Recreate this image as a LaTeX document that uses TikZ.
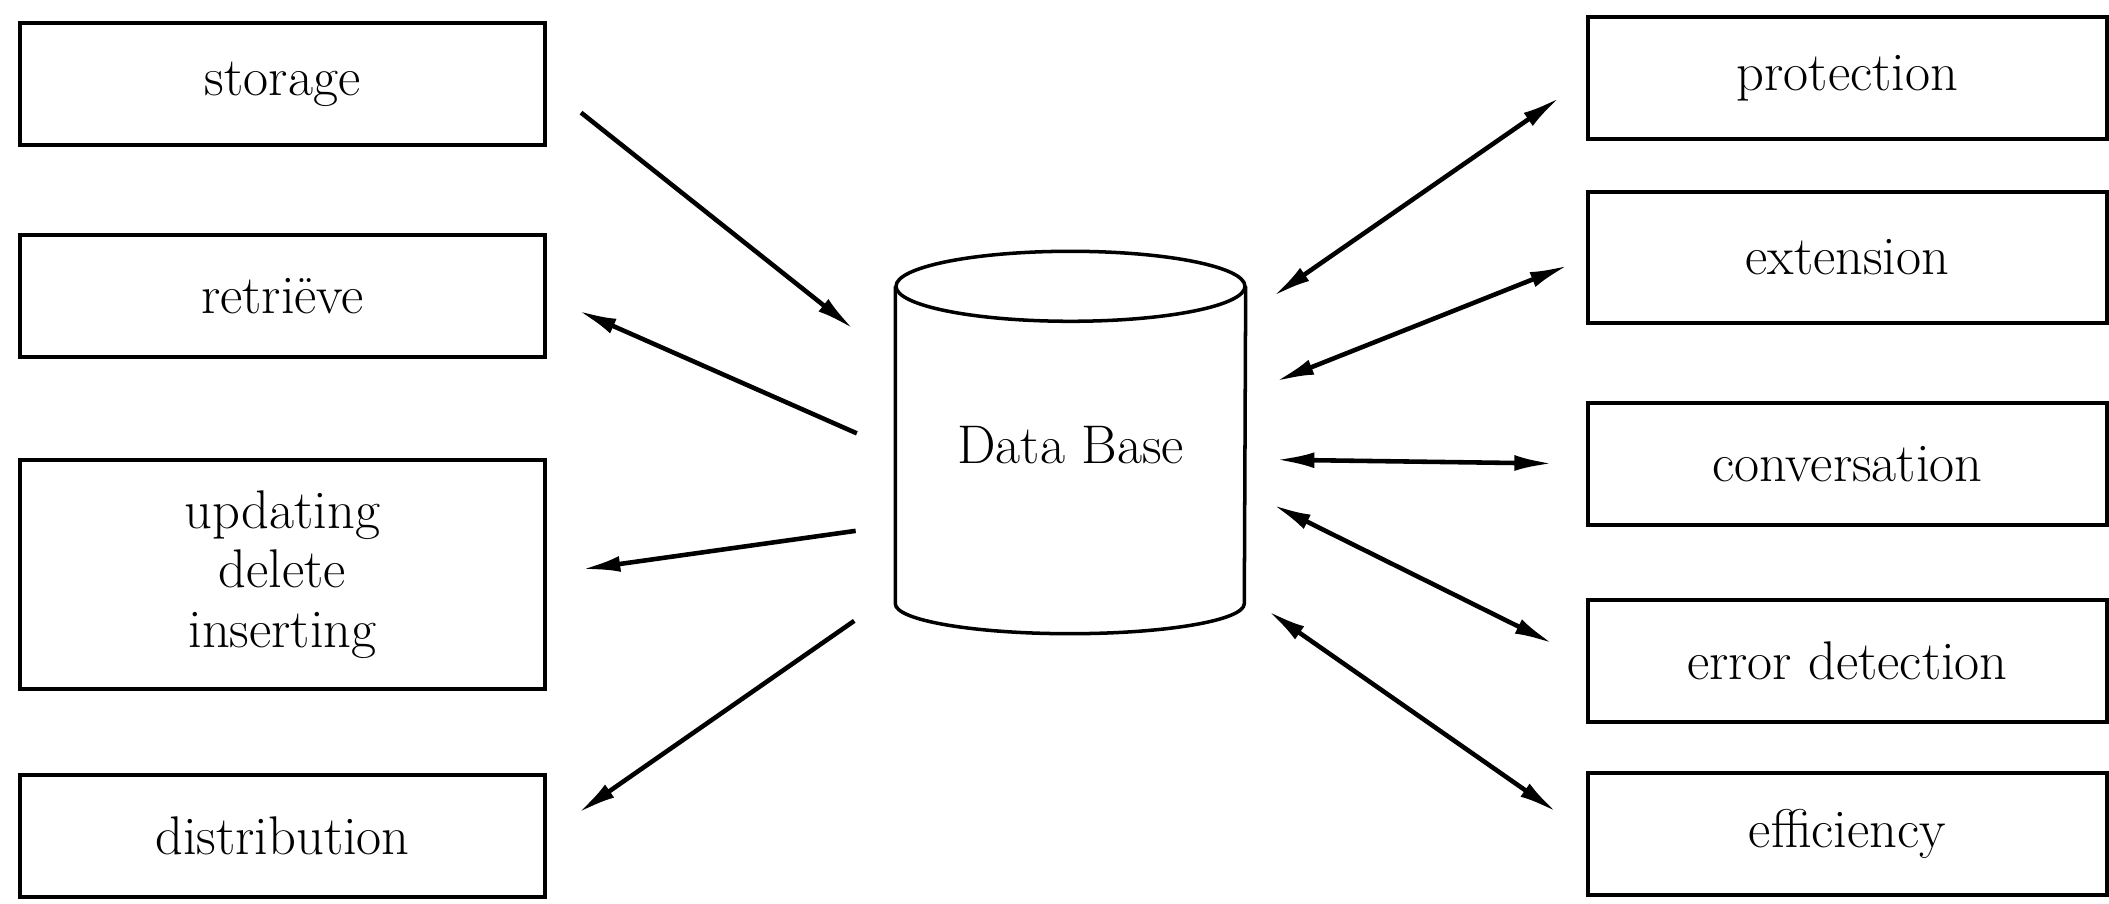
\documentclass[tikz,border=0pt]{standalone}
\usepackage{tikz}
\usetikzlibrary{positioning, arrows.meta}
\tikzset{
  task/.style={
    rectangle,
    draw=black, line width=1pt,
    minimum width=5.25cm,
    minimum height=1.22cm,
    inner sep=2pt, outer sep=0pt,
    align=center,
    font=\fontsize{15.5}{17}\selectfont
  },
  feature/.style={
    task,
    minimum width=5.19cm
  },
  arrow/.style={
    draw=black,
    line width=1.3pt,
    -{Latex[length=11pt,width=4.5pt]}
  },
  biarrow/.style={
    arrow,
    {Latex[length=11pt,width=4.5pt]}-{Latex[length=11pt,width=4.5pt]}
  }
}

\begin{document}
\begin{tikzpicture}
\useasboundingbox (0,0) rectangle (21.09,-9.04);

% nodes

%% left column
\node[task] (storage) at (2.825,-0.84) {storage};
\node[task, below = 0.9cm of storage] (retrieve) {retriëve};
\node[task, below = 1.03cm of retrieve, minimum height=2.29cm] (updating)
  {updating\\delete\\inserting};
\node[task, below = 0.86cm of updating] (distribution) {distribution};

%% right column
\node[feature] (protection) at (18.475,-0.78) {protection};
\node[feature, below = 0.53cm of protection, minimum height=1.31cm] (extension) {extension};
\node[feature, below = 0.8cm of extension] (conversation) {conversation};
\node[feature, below = 0.75cm of conversation] (error) {error detection};
\node[feature, below = 0.51cm of error] (efficiency) {efficiency};

%% data base cylinder
\node[minimum width=3.49cm, minimum height=3.16cm, inner sep=0pt,
      font=\fontsize{15.5}{17}\selectfont] (db) at (10.705,-4.45) {Data Base};
\draw[line width=1pt] (db.north west) -- (db.south west)
  arc[start angle=180, end angle=360, x radius=1.745cm, y radius=0.3cm]
  -- (db.north east);
\draw[line width=1pt] (db.north) ellipse [x radius=1.745cm, y radius=0.35cm];

% edges

%% ports on the cylinder
\coordinate[below=7.6mm of db.north west] (dbw1);
\coordinate[below=16.4mm of db.north west] (dbw2);
\coordinate[below=23.9mm of db.north west] (dbw3);
\coordinate[below=30.6mm of db.north west] (dbw4);
\coordinate[below=2.9mm of db.north east] (dbe1);
\coordinate[below=10.7mm of db.north east] (dbe2);
\coordinate[below=17.3mm of db.north east] (dbe3);
\coordinate[below=20.5mm of db.north east] (dbe4);
\coordinate[below=30.9mm of db.north east] (dbe5);

%% left
\draw [arrow, shorten <=4.6mm, shorten >=5.3mm] (storage.east) -- (dbw1);
\draw [arrow, shorten <=4.2mm, shorten >=3.6mm] (dbw2) -- (retrieve.east);
\draw [arrow, shorten <=4mm, shorten >=3.7mm] (dbw3) -- (updating.east);
\draw [arrow, shorten <=5mm, shorten >=4mm] (dbw4) -- (distribution.east);

%% right
\draw [biarrow, shorten <=3.3mm, shorten >=3.4mm] (dbe1) -- (protection.west);
\draw [biarrow, shorten <=3.2mm, shorten >=2.1mm] (dbe2) -- (extension.west);
\draw [biarrow, shorten <=3mm, shorten >=3.5mm] (dbe3) -- (conversation.west);
\draw [biarrow, shorten <=3mm, shorten >=3.9mm] (dbe4) -- (error.west);
\draw [biarrow, shorten <=2.7mm, shorten >=3.8mm] (dbe5) -- (efficiency.west);

\end{tikzpicture}
\end{document}
